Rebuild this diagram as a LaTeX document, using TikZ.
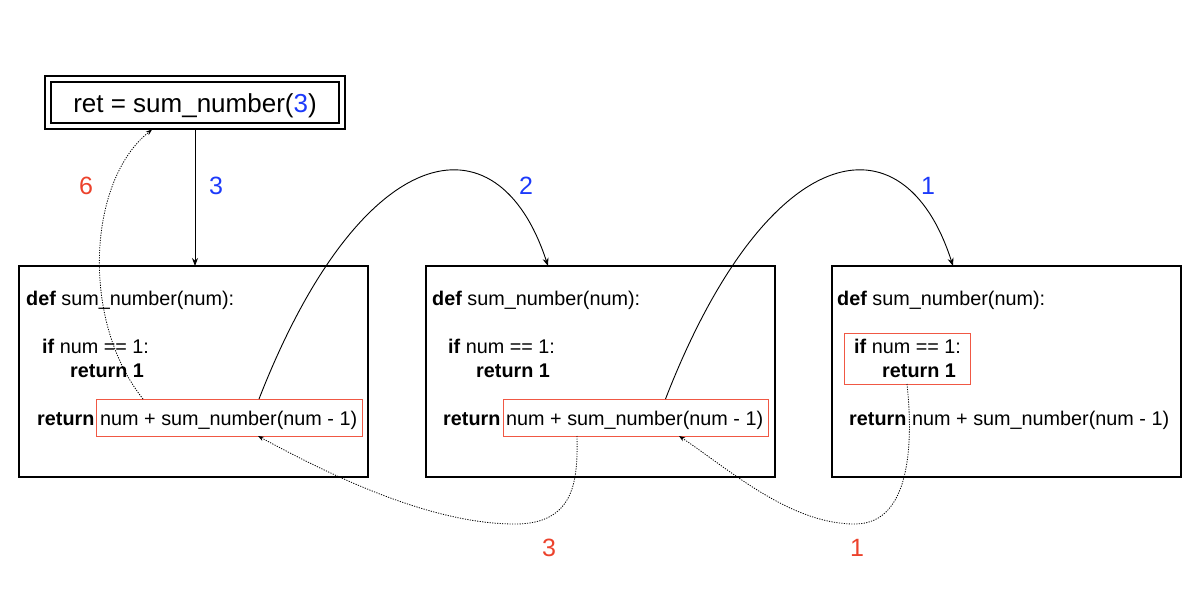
\documentclass[tikz,border=0pt]{standalone}
\usepackage{fontspec}
\setmainfont{Liberation Sans}
\usetikzlibrary{arrows.meta}
\definecolor{lblred}{RGB}{236,66,44}
\definecolor{boxred}{RGB}{240,88,68}
\definecolor{lblblue}{RGB}{28,58,250}
\begin{document}
\begin{tikzpicture}[x=1pt,y=-1pt,
  code/.style={anchor=base west, inner sep=0pt, font=\fontsize{19.8}{24}\selectfont},
  frame/.style={draw, line width=1.8pt, inner sep=0pt, outer sep=0pt, minimum width=349pt, minimum height=211pt},
  redbox/.style={draw=boxred, line width=1pt, inner sep=0pt, outer sep=0pt},
  lbl/.style={anchor=base, inner sep=0pt, font=\fontsize{25}{30}\selectfont},
  call/.style={line width=0.9pt, -{Stealth[length=8pt,width=6pt]}},
  ret/.style={line width=0.8pt, dash pattern=on 1.2pt off 1.3pt, -{Stealth[length=6pt,width=4.5pt]}}
]
\useasboundingbox (0,0) rectangle (1200,600);

% top call box
\node[draw, double, double distance=4pt, line width=1.6pt, inner sep=0pt, outer sep=3.6pt,
      minimum width=294pt, minimum height=47pt] (top) at (195,102.5) {};
\node[anchor=base, inner sep=0pt, font=\fontsize{26}{30}\selectfont] (toptxt) at (195,112)
  {ret = sum\_number(\textcolor{lblblue}{3})};

% frames
\node[frame] (b1) at (193.5,371.5) {};
\node[frame] (b2) at (600.5,371.5) {};
\node[frame] (b3) at (1006.5,371.5) {};

% red boxes
\node[redbox, minimum width=266pt, minimum height=37pt] (r1) at (229,417.5) {};
\node[redbox, minimum width=265pt, minimum height=37pt] (r2) at (635.5,417.5) {};
\node[redbox, minimum width=126pt, minimum height=51pt] (r3) at (907,358.5) {};

% code box 1
\node[code] (d1) at (26,305) {\textbf{def} sum\_number(num):};
\node[code] (i1) at (42,353) {\textbf{if} num == 1:};
\node[code] (o1) at (70,377) {\textbf{return 1}};
\node[code] (t1) at (37,425) {\textbf{return}};
\node[code] (e1) at (100,425) {num + sum\_number(num - 1)};
% code box 2
\node[code] (d2) at (432,305) {\textbf{def} sum\_number(num):};
\node[code] (i2) at (448,353) {\textbf{if} num == 1:};
\node[code] (o2) at (476,377) {\textbf{return 1}};
\node[code] (t2) at (443,425) {\textbf{return}};
\node[code] (e2) at (506,425) {num + sum\_number(num - 1)};
% code box 3
\node[code] (d3) at (837,305) {\textbf{def} sum\_number(num):};
\node[code] (i3) at (854,353) {\textbf{if} num == 1:};
\node[code] (o3) at (882,377) {\textbf{return 1}};
\node[code] (t3) at (849,425) {\textbf{return}};
\node[code] (e3) at (912,425) {num + sum\_number(num - 1)};

% calls
\draw[call] (top.south) -- (top.south |- b1.north);
\draw[call] ([xshift=30pt]r1.north) .. controls (360,140) and (497,110) .. ([xshift=-52.5pt]b2.north);
\draw[call] ([xshift=30pt]r2.north) .. controls (766,140) and (903,110) .. ([xshift=-53.5pt]b3.north);

% returns
\draw[ret] ([xshift=-86pt]r1.north) .. controls (80,320) and (88,180) .. ([xshift=-43pt]top.south);
\draw[ret] ([xshift=-58.5pt]r2.south) .. controls (578,480) and (575,524) .. (515,524)
   .. controls (430,524) and (330,475) .. ([xshift=29pt]r1.south);
\draw[ret] (r3.south) .. controls (912,430) and (915,524) .. (855,524)
   .. controls (790,524) and (730,470) .. ([xshift=43.5pt]r2.south);

% labels
\node[lbl, text=lblred] (l6) at (86,194) {6};
\node[lbl, text=lblblue] (l3b) at (216,194) {3};
\node[lbl, text=lblblue] (l2b) at (526,194) {2};
\node[lbl, text=lblblue] (l1b) at (928,194) {1};
\node[lbl, text=lblred] (l3r) at (549,556) {3};
\node[lbl, text=lblred] (l1r) at (857,556) {1};
\end{tikzpicture}
\end{document}
